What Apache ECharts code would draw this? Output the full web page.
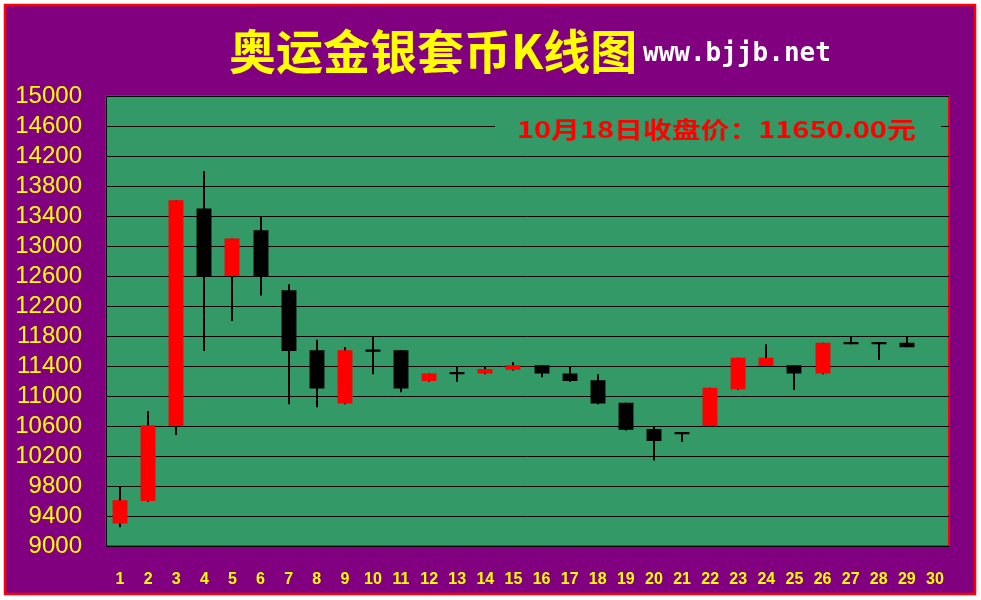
<!DOCTYPE html>
<html><head><meta charset="utf-8">
<script src="https://cdn.jsdelivr.net/npm/echarts@6/dist/echarts.min.js"></script>
<style>html,body{margin:0;padding:0;background:#fff}#c{width:981px;height:600px}</style>
</head><body><div id="c"></div>
<script>
const days = ['1','2','3','4','5','6','7','8','9','10','11','12','13','14','15','16','17','18','19','20','21','22','23','24','25','26','27','28','29','30'];
const openP  = [9300, 9600, 10600, 13500, 12600, 13210, 12410, 11610, 10900, 11620, 11610, 11200, 11320, 11300, 11350, 11410, 11300, 11210, 10910, 10560, 10520, 10600, 11090, 11400, 11410, 11300, 11720, 11720, 11710];
const closeP = [9610, 10610, 13610, 12600, 13100, 12600, 11600, 11100, 11610, 11590, 11100, 11300, 11290, 11360, 11410, 11300, 11200, 10900, 10550, 10400, 10490, 11110, 11510, 11510, 11300, 11710, 11690, 11690, 11650];
const lowP   = [9250, 9590, 10480, 11600, 12000, 12340, 10890, 10850, 10890, 11290, 11050, 11190, 11190, 11290, 11340, 11250, 11190, 10890, 10540, 10140, 10390, 10600, 11080, 11400, 11080, 11290, 11690, 11480, 11650];
const highP  = [9790, 10800, 13610, 14000, 13100, 13400, 12490, 11750, 11650, 11790, 11610, 11300, 11390, 11390, 11450, 11410, 11390, 11290, 10910, 10590, 10520, 11110, 11510, 11690, 11410, 11710, 11800, 11720, 11800];
const yMin = 9000, yMax = 15000, yStep = 400;
const titleText = '奥运金银套币K线图';
const siteText = 'www.bjjb.net';
const noteText = '10月18日收盘价：11650.00元';

const kData = openP.map((o, i) => [i, o, closeP[i], lowP[i], highP[i]]);

const chart = echarts.init(document.getElementById('c'), null, {renderer: 'canvas'});
chart.setOption({
  animation: false,
  backgroundColor: '#ffffff',
  grid: {left: 106, right: 32, top: 96, bottom: 54, show: true, backgroundColor: '#339966', borderColor: '#ff0000', borderWidth: 2, outerBoundsMode: 'none'},
  xAxis: {
    type: 'category', data: days, boundaryGap: true,
    axisLine: {show: true, lineStyle: {color: '#000', width: 1}},
    axisTick: {show: false},
    axisLabel: {color: '#ffff00', fontFamily: 'Liberation Sans', fontWeight: 'bold', fontSize: 16, margin: 26, interval: 0},
    splitLine: {show: false}
  },
  yAxis: {
    type: 'value', min: yMin, max: yMax, interval: yStep,
    axisLine: {show: true, lineStyle: {color: '#000', width: 1}},
    axisTick: {show: false},
    axisLabel: {color: '#ffff00', fontFamily: 'Liberation Sans', fontSize: 24, margin: 24, formatter: function (v) { return String(v); }},
    splitLine: {show: true, lineStyle: {color: '#000', width: 1}}
  },
  graphic: [
    {type: 'rect', z: -10, shape: {x: 5, y: 5, width: 970, height: 589}, style: {fill: '#800080', stroke: '#ff0000', lineWidth: 2.5}},
    {type: 'text', z: 10, x: 229, y: 51, style: {text: titleText, fill: '#ffff00', font: 'bold 47px "Noto Sans CJK SC"', textAlign: 'left', textVerticalAlign: 'middle'}},
    {type: 'text', z: 10, x: 643, y: 67, style: {text: siteText, fill: '#ffffff', font: 'bold 26px "DejaVu Sans Mono"', textAlign: 'left', textVerticalAlign: 'bottom'}},
    {type: 'rect', z: 100, shape: {x: 495, y: 112, width: 446, height: 30}, style: {fill: '#339966'}},
    {type: 'text', z: 101, x: 517, y: 129, scaleX: 1.255, style: {text: noteText, fill: '#ff0000', font: 'bold 23px "Noto Sans CJK SC"', textAlign: 'left', textVerticalAlign: 'middle'}}
  ],
  series: [{
    type: 'custom',
    data: kData,
    encode: {x: 0, y: [1, 2, 3, 4]},
    renderItem: function (params, api) {
      const i = api.value(0);
      const o = api.value(1), c = api.value(2), l = api.value(3), h = api.value(4);
      const pH = api.coord([i, h]), pL = api.coord([i, l]);
      const pO = api.coord([i, o]), pC = api.coord([i, c]);
      const bw = api.size([1, 0])[0] * 0.53;
      const x = Math.round(pO[0]);
      const top = Math.min(pO[1], pC[1]), bot = Math.max(pO[1], pC[1]);
      return {type: 'group', children: [
        {type: 'line', shape: {x1: x, y1: pH[1], x2: x, y2: pL[1]}, style: {stroke: '#000', lineWidth: 2}},
        {type: 'rect', shape: {x: x - bw / 2, y: top, width: bw, height: Math.max(bot - top, 1)}, style: {fill: c > o ? '#ff0000' : '#000000'}}
      ]};
    }
  }]
});
</script></body></html>
